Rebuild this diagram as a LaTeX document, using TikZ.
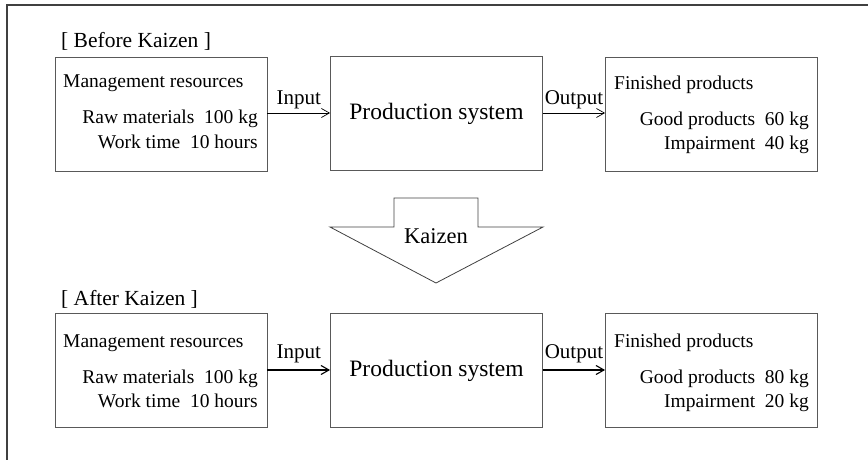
\documentclass[tikz,border=0pt]{standalone}
\usepackage{fontspec}
\setmainfont{Liberation Serif}
\usetikzlibrary{arrows.meta}

\begin{document}
\begin{tikzpicture}[x=1pt,y=-1pt,>={Straight Barb[length=8pt,width=9pt]},
	  every node/.append style={inner sep=0pt},
	  box/.style={draw=black!65,line width=0.8pt,minimum width=212pt,minimum height=114pt},
	  flow/.style={->,line width=0.7pt},
	  flowb/.style={->,line width=1.1pt}]
	  \tikzstyle{word} = [font=\fontsize{19.5}{22}\selectfont,color=black]
	  \tikzstyle{title} = [font=\fontsize{21.5}{24}\selectfont,anchor=base west]
	  \useasboundingbox (0,0) rectangle (868,460);
	  % frame
	  \draw[black!75,line width=1.3pt] (7,460) -- (7,5) -- (868,5);
	  % before kaizen
	  \node (before) [title] at (61,48) {[ Before Kaizen ]};
	  \node (res1) [box] at (161,114) {};
	  \node (prod1) [box] at (436.5,113) {};
	  \node (fin1) [box] at (711.5,114) {};
	  \node (res1_h) [word,anchor=base west] at (63,88) {Management resources};
	  \node (res1_a) [word,anchor=base east] at (258,124) {Raw materials~~100 kg};
	  \node (res1_b) [word,anchor=base east] at (258,148) {Work time~~10 hours};
	  \node (prod1_t) [font=\fontsize{23.5}{26}\selectfont,anchor=base] at (436.5,119) {Production system};
	  \node (fin1_h) [word,anchor=base west] at (614,89) {Finished products};
	  \node (fin1_a) [word,anchor=base east] at (809,125) {Good products~~60 kg};
	  \node (fin1_b) [word,anchor=base east] at (809,149) {Impairment~~40 kg};
	  \draw[flow] (res1.east |- prod1) to node [above=4pt,font=\fontsize{21}{24}\selectfont] {Input} (prod1);
	  \draw[flow] (prod1) to node [above=4pt,font=\fontsize{21}{24}\selectfont] {Output} (fin1.west |- prod1);
	  % kaizen arrow
	  \draw[black!75,line width=0.8pt,line join=miter] (394,198) -- (478,198) -- (478,227) -- (543,227)
	    -- (436,283) -- (330,227) -- (394,227) -- cycle;
	  \node (kaizen) [font=\fontsize{22.5}{25}\selectfont,anchor=base] at (436,243) {Kaizen};
	  % after kaizen
	  \node (after) [title] at (61,305) {[ After Kaizen ]};
	  \node (res2) [box] at (161,370) {};
	  \node (prod2) [box] at (436.5,370) {};
	  \node (fin2) [box] at (711.5,370) {};
	  \node (res2_h) [word,anchor=base west] at (63,347) {Management resources};
	  \node (res2_a) [word,anchor=base east] at (258,383) {Raw materials~~100 kg};
	  \node (res2_b) [word,anchor=base east] at (258,407) {Work time~~10 hours};
	  \node (prod2_t) [font=\fontsize{23.5}{26}\selectfont,anchor=base] at (436.5,376) {Production system};
	  \node (fin2_h) [word,anchor=base west] at (614,347) {Finished products};
	  \node (fin2_a) [word,anchor=base east] at (809,383) {Good products~~80 kg};
	  \node (fin2_b) [word,anchor=base east] at (809,407) {Impairment~~20 kg};
	  \draw[flowb] (res2) to node [above=6pt,font=\fontsize{21}{24}\selectfont] {Input} (prod2);
	  \draw[flowb] (prod2) to node [above=6pt,font=\fontsize{21}{24}\selectfont] {Output} (fin2);
\end{tikzpicture}
\end{document}
